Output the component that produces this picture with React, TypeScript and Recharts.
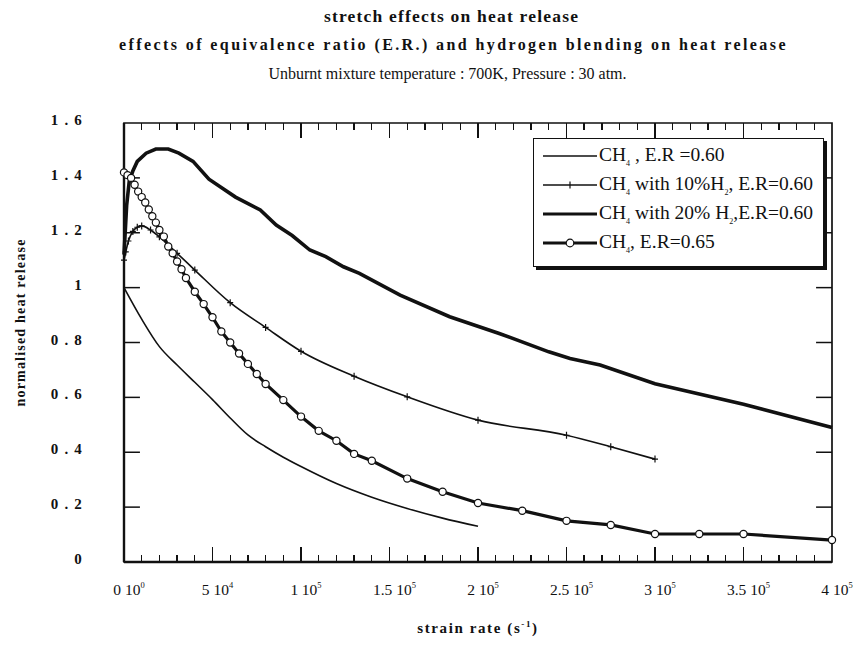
import React from "react";
import {
  ComposedChart,
  Legend,
  Line,
  ReferenceArea,
  ReferenceLine,
  XAxis,
  YAxis,
} from "recharts";

const FONT = "'Liberation Serif', 'Times New Roman', Times, serif";

// [strain rate (1/s), normalised heat release]
const ch4Lean: [number, number][] = [
  [0, 1.0], [10000, 0.885], [20000, 0.785], [30000, 0.718], [40000, 0.655],
  [50000, 0.592], [60000, 0.525], [70000, 0.463], [80000, 0.42], [90000, 0.382],
  [100000, 0.348], [120000, 0.286], [140000, 0.236], [160000, 0.195],
  [180000, 0.16], [200000, 0.13],
];

const ch4H2Ten: [number, number][] = [
  [0, 1.1], [1000, 1.13], [2500, 1.17], [5000, 1.205], [7500, 1.22],
  [10000, 1.225], [15000, 1.21], [20000, 1.185], [30000, 1.125], [40000, 1.064],
  [60000, 0.945], [80000, 0.855], [100000, 0.768], [130000, 0.677],
  [160000, 0.602], [200000, 0.517], [250000, 0.462], [275000, 0.42],
  [300000, 0.375],
];

const ch4H2Twenty: [number, number][] = [
  [0, 1.12], [1500, 1.3], [3000, 1.39], [5000, 1.425], [7500, 1.46],
  [12500, 1.49], [18000, 1.505], [25000, 1.505], [31000, 1.49], [39000, 1.46],
  [48000, 1.395], [56000, 1.36], [63000, 1.33], [77000, 1.283], [86000, 1.228],
  [95000, 1.19], [105000, 1.137], [114000, 1.113], [124000, 1.076],
  [133000, 1.052], [156000, 0.973], [184000, 0.894], [212000, 0.833],
  [240000, 0.766], [252000, 0.742], [269000, 0.718], [300000, 0.65],
  [350000, 0.575], [400000, 0.49],
];

const ch4Rich: [number, number][] = [
  [0, 1.42], [2000, 1.41], [4000, 1.4], [6000, 1.375], [8000, 1.35],
  [10000, 1.33], [12000, 1.31], [14000, 1.285], [16000, 1.26], [18000, 1.237],
  [20000, 1.21], [22500, 1.186], [25000, 1.15], [27500, 1.125], [30000, 1.095],
  [32500, 1.067], [35000, 1.035], [40000, 0.985], [45000, 0.94], [50000, 0.892],
  [55000, 0.84], [60000, 0.8], [65000, 0.76], [70000, 0.722], [75000, 0.685],
  [80000, 0.649], [90000, 0.59], [100000, 0.53], [110000, 0.478],
  [120000, 0.442], [130000, 0.394], [140000, 0.369], [160000, 0.304],
  [180000, 0.256], [200000, 0.215], [225000, 0.187], [250000, 0.15],
  [275000, 0.135], [300000, 0.102], [325000, 0.102], [350000, 0.102],
  [400000, 0.08],
];

const legendNames = [
  "CH4 , E.R =0.60",
  "CH4 with 10%H2, E.R=0.60",
  "CH4 with 20% H2,E.R=0.60",
  "CH4, E.R=0.65",
];

const xTicks = [
  0, 10000, 20000, 30000, 40000, 50000, 60000, 70000, 80000, 90000, 100000,
  110000, 120000, 130000, 140000, 150000, 160000, 170000, 180000, 190000, 200000,
  210000, 220000, 230000, 240000, 250000, 260000, 270000, 280000, 290000, 300000,
  310000, 320000, 330000, 340000, 350000, 360000, 370000, 380000, 390000, 400000,
];
const xMajorTicks = [0, 50000, 100000, 150000, 200000, 250000, 300000, 350000, 400000];
const xMajorMantissa = ["0", "5", "1", "1.5", "2", "2.5", "3", "3.5", "4"];
const xMajorExponent = ["0", "4", "5", "5", "5", "5", "5", "5", "5"];

const yTicks = [0, 0.2, 0.4, 0.6, 0.8, 1, 1.2, 1.4, 1.6];
const yTickLabels = ["0", "0 . 2", "0 . 4", "0 . 6", "0 . 8", "1", "1 . 2", "1 . 4", "1 . 6"];

const X_MAX = 400000;
const Y_MAX = 1.6;
const SIDE_LEN = 9000; // ~16px of the x axis

// plot box inside the 859x653 chart (set by the margins and axis sizes below)
const PLOT = { left: 124, top: 123, width: 708, height: 439 };

const toRows = (pts: [number, number][]) => pts.map(([x, y]) => ({ x, y }));

function BottomTick(props: any) {
  const x = Number(props.x);
  const y = Number(props.y);
  const i = xMajorTicks.indexOf(props.payload.value);
  if (i < 0) return <g />;
  return (
    <text x={x + 5} y={y + 33} textAnchor="middle" fontFamily={FONT} fontSize={15.5} fill="#111">
      {xMajorMantissa[i]}
      <tspan dx={4}>10</tspan>
      <tspan dy={-7} fontSize={8.5}>{xMajorExponent[i]}</tspan>
    </text>
  );
}

function LeftTick({ y, index }: any) {
  return (
    <text
      x={83}
      y={Number(y) - 3}
      textAnchor="end"
      dominantBaseline="central"
      fontFamily={FONT}
      fontWeight="bold"
      fontSize={15}
      letterSpacing={1.2}
      fill="#111"
    >
      {yTickLabels[index]}
    </text>
  );
}

function PlusDot({ cx, cy }: any) {
  return (
    <path
      d={`M${cx - 3},${cy}H${cx + 3}M${cx},${cy - 3.5}V${cy + 3.5}`}
      stroke="#111"
      strokeWidth={1.2}
      fill="none"
    />
  );
}

function withSubscripts(s: string) {
  return s.split(/(H\d)/).map((part, i) =>
    /^H\d$/.test(part) ? (
      <span key={i}>
        H<sub style={{ fontSize: 8, verticalAlign: -5 }}>{part[1]}</sub>
      </span>
    ) : (
      <span key={i}>{part}</span>
    )
  );
}

function LegendIcon({ kind }: { kind: number }) {
  const thick = kind >= 2;
  return (
    <svg width={56} height={14} style={{ display: "block", flex: "none" }}>
      <line x1={1} x2={55} y1={7} y2={7} stroke="#111" strokeWidth={thick ? 3 : 1.4} />
      {kind === 1 && <path d="M28,3.5V10.5" stroke="#111" strokeWidth={1.2} />}
      {kind === 3 && <circle cx={28} cy={7} r={3.8} fill="#fff" stroke="#111" strokeWidth={1.2} />}
    </svg>
  );
}

function LegendBox() {
  return (
    <div
      style={{
        width: 291,
        height: 129,
        boxSizing: "border-box",
        border: "1.5px solid #111",
        boxShadow: "3px 3px 0 #111",
        background: "#fff",
        padding: "2px 0 0 8px",
        fontFamily: FONT,
        fontSize: 19.5,
        color: "#111",
      }}
    >
      {legendNames.map((name, i) => (
        <div key={name} style={{ display: "flex", alignItems: "center", height: 29, whiteSpace: "nowrap" }}>
          <LegendIcon kind={i} />
          <span style={{ marginLeft: 1 }}>{withSubscripts(name)}</span>
        </div>
      ))}
    </div>
  );
}

function XTitle({ viewBox }: any) {
  const cx = viewBox.x + viewBox.width / 2;
  return (
    <text x={cx} y={633} textAnchor="middle" fontFamily={FONT} fontWeight="bold" fontSize={15} letterSpacing={1.6} fill="#111">
      strain rate (s<tspan dy={-6} fontSize={9}>-1</tspan>
      <tspan dy={6}>)</tspan>
    </text>
  );
}

function YTitle({ viewBox }: any) {
  const cy = viewBox.y + viewBox.height / 2 - 20;
  return (
    <text
      x={20}
      y={cy}
      transform={`rotate(-90 20 ${cy})`}
      textAnchor="middle"
      dominantBaseline="central"
      fontFamily={FONT}
      fontWeight="bold"
      fontSize={14}
      letterSpacing={1.2}
      fill="#111"
    >
      normalised heat release
    </text>
  );
}

// inward tick marks on the top and bottom frame, laid over the chart
function FrameTicks() {
  const inner = xTicks.filter((v) => v > 0 && v < X_MAX);
  return (
    <div
      style={{
        position: "absolute",
        left: PLOT.left,
        top: PLOT.top,
        width: PLOT.width,
        height: PLOT.height,
        pointerEvents: "none",
      }}
    >
      {inner.map((v) => {
        const len = xMajorTicks.includes(v) ? 15 : 7;
        const left = `calc(${(v / X_MAX) * 100}% - 0.7px)`;
        return (
          <React.Fragment key={v}>
            <div style={{ position: "absolute", left, top: 0, width: 1.4, height: len, background: "#111" }} />
            <div style={{ position: "absolute", left, bottom: 0, width: 1.4, height: len, background: "#111" }} />
          </React.Fragment>
        );
      })}
    </div>
  );
}

const titleBase: React.CSSProperties = {
  position: "absolute",
  left: 0,
  width: 859,
  textAlign: "center",
  fontFamily: FONT,
  color: "#111",
  whiteSpace: "nowrap",
  lineHeight: 1,
};

const tickStyle = { stroke: "#111", strokeWidth: 1.5, ifOverflow: "visible" as const };

export default function App() {
  const innerY = yTicks.filter((v) => v > 0 && v < Y_MAX);
  return (
    <div style={{ position: "absolute", left: 0, top: 0, width: 859, height: 653, background: "#fff" }}>
      <ComposedChart
        width={859}
        height={653}
        margin={{ top: PLOT.top, right: 859 - PLOT.left - PLOT.width, bottom: 0, left: 0 }}
      >
        <XAxis
          dataKey="x"
          type="number"
          domain={[0, X_MAX]}
          ticks={xTicks}
          interval={0}
          height={653 - PLOT.top - PLOT.height}
          tickSize={0}
          tickMargin={0}
          tick={<BottomTick />}
          axisLine={false}
          label={{ content: <XTitle /> }}
        />
        <YAxis
          dataKey="y"
          type="number"
          domain={[0, Y_MAX]}
          ticks={yTicks}
          interval={0}
          width={PLOT.left}
          tickSize={0}
          tickMargin={0}
          tick={<LeftTick />}
          axisLine={false}
          label={{ content: <YTitle /> }}
        />
        <ReferenceArea
          x1={0}
          x2={X_MAX}
          y1={0}
          y2={Y_MAX}
          fill="none"
          fillOpacity={0}
          stroke="#111"
          strokeWidth={1.7}
          ifOverflow="visible"
        />
        <ReferenceLine x={0} stroke="#111" strokeWidth={2.4} ifOverflow="visible" />
        <ReferenceLine y={0} stroke="#111" strokeWidth={2.4} ifOverflow="visible" />
        {innerY.map((v) => [
          <ReferenceLine key={`l${v}`} segment={[{ x: 0, y: v }, { x: SIDE_LEN, y: v }]} {...tickStyle} />,
          <ReferenceLine key={`r${v}`} segment={[{ x: X_MAX - SIDE_LEN, y: v }, { x: X_MAX, y: v }]} {...tickStyle} />,
        ])}
        <Legend
          layout="vertical"
          align="center"
          verticalAlign="middle"
          wrapperStyle={{ left: 533, top: 138, width: 291 }}
          content={<LegendBox />}
        />
        <Line
          data={toRows(ch4Lean)}
          dataKey="y"
          name={legendNames[0]}
          type="monotone"
          stroke="#111"
          strokeWidth={1.6}
          dot={false}
          isAnimationActive={false}
        />
        <Line
          data={toRows(ch4H2Ten)}
          dataKey="y"
          name={legendNames[1]}
          type="monotone"
          stroke="#111"
          strokeWidth={1.6}
          dot={(p: any) => <PlusDot key={`b${p.index}`} cx={p.cx} cy={p.cy} />}
          isAnimationActive={false}
        />
        <Line
          data={toRows(ch4H2Twenty)}
          dataKey="y"
          name={legendNames[2]}
          type="linear"
          stroke="#111"
          strokeWidth={3.6}
          dot={false}
          isAnimationActive={false}
        />
        <Line
          data={toRows(ch4Rich)}
          dataKey="y"
          name={legendNames[3]}
          type="linear"
          stroke="#111"
          strokeWidth={3.2}
          dot={{ r: 3.6, fill: "#fff", stroke: "#111", strokeWidth: 1.2 }}
          isAnimationActive={false}
        />
      </ComposedChart>
      <FrameTicks />
      <div style={{ ...titleBase, top: 8, left: 22, fontSize: 17.5, fontWeight: "bold", letterSpacing: 1.2 }}>
        stretch effects on heat release
      </div>
      <div style={{ ...titleBase, top: 37, left: 24, fontSize: 16, fontWeight: "bold", letterSpacing: 2.4 }}>
        effects of equivalence ratio (E.R.) and hydrogen blending on heat release
      </div>
      <div style={{ ...titleBase, top: 66, left: 18, fontSize: 16 }}>
        Unburnt mixture temperature : 700K, Pressure : 30 atm.
      </div>
    </div>
  );
}
